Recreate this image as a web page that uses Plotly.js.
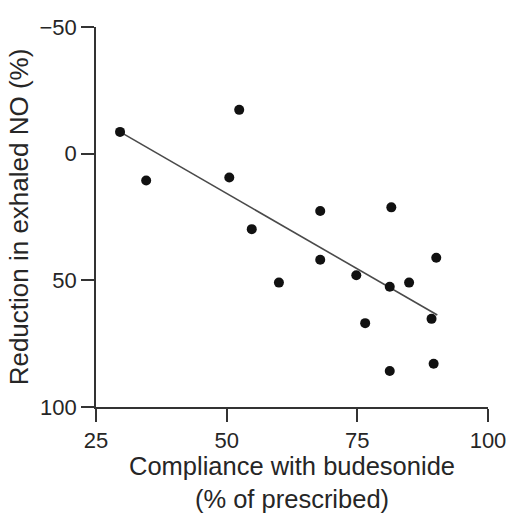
<!DOCTYPE html>
<html>
<head>
<meta charset="utf-8">
<script src="https://cdn.plot.ly/plotly-3.0.1.min.js"></script>
<style>html,body{margin:0;padding:0;background:#fff;}#chart{width:513px;height:513px;}</style>
</head>
<body>
<div id="chart"></div>
<script>
// Compliance with budesonide (% of prescribed)
const compliance = [29.6, 34.6, 52.4, 50.5, 54.8, 60.0, 67.9, 67.9, 74.8, 76.5, 81.5, 81.2, 84.9, 81.2, 90.1, 89.2, 89.6];
// Reduction in exhaled NO (%)
const reduction = [-8.6, 10.6, -17.3, 9.4, 29.8, 50.9, 22.6, 41.9, 48.0, 66.9, 21.2, 52.5, 50.9, 85.8, 41.1, 65.2, 82.9];
// Regression line end points
const fitX = [29.6, 90.3];
const fitY = [-8.6, 63.7];
const xTicks = [25, 50, 75, 100];
const yTicks = [-50, 0, 50, 100];

const fam = 'Liberation Sans, Arial, sans-serif';
const tickFont = {family: fam, size: 22, color: '#262626'};
const xTitleFont = {family: fam, size: 25.5, color: '#262626'};
const yTitleFont = {family: fam, size: 26, color: '#262626'};

const traces = [
  {x: fitX, y: fitY, mode: 'lines', type: 'scatter', line: {color: '#4a4a4a', width: 1.6}, hoverinfo: 'skip'},
  {x: compliance, y: reduction, mode: 'markers', type: 'scatter', marker: {color: '#111', size: 10}}
];

const layout = {
  width: 513, height: 513,
  margin: {l: 96, r: 25, t: 27, b: 106},
  paper_bgcolor: '#fff', plot_bgcolor: '#fff',
  showlegend: false,
  font: tickFont,
  xaxis: {
    range: [25, 100], tickvals: xTicks, ticks: 'outside', ticklen: 13, tickwidth: 1.8, tickcolor: '#333',
    showline: true, linecolor: '#333', linewidth: 1.8, showgrid: false, zeroline: false,
    tickfont: tickFont,
    title: {text: 'Compliance with budesonide<br>(% of prescribed)', font: xTitleFont, standoff: 6}
  },
  yaxis: {
    range: [100, -50], tickvals: yTicks, ticks: 'outside', ticklen: 13, tickwidth: 1.8, tickcolor: '#333',
    showline: true, linecolor: '#333', linewidth: 1.8, showgrid: false, zeroline: false,
    tickfont: tickFont,
    title: {text: 'Reduction in exhaled NO (%)', font: yTitleFont, standoff: 3}
  }
};

Plotly.newPlot('chart', traces, layout, {staticPlot: true, displayModeBar: false});
</script>
</body>
</html>
